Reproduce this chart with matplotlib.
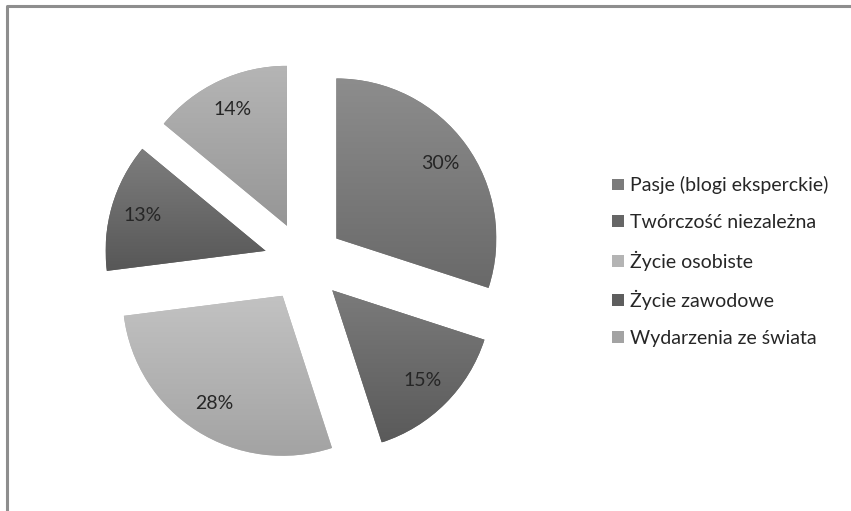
import numpy as np
import matplotlib
matplotlib.use("Agg")
import matplotlib.pyplot as plt
from matplotlib.patches import Patch
from matplotlib.colors import LinearSegmentedColormap

# data
categories = ["Pasje (blogi eksperckie)", "Twórczość niezależna", "Życie osobiste",
              "Życie zawodowe", "Wydarzenia ze świata"]
shares = [30, 15, 28, 13, 14]
# gradient (top, bottom) per slice, and the flat legend swatch colour
grad_top = ["#8d8d8d", "#7b7b7b", "#c2c2c2", "#7e7e7e", "#b5b5b5"]
grad_bot = ["#696969", "#5a5a5a", "#a3a3a3", "#575757", "#969696"]
swatch = ["#7b7b7b", "#666666", "#b4b4b4", "#5e5e5e", "#a3a3a3"]

W, H = 851, 511
plt.rcParams["font.family"] = ["Lato", "DejaVu Sans"]

fig = plt.figure(figsize=(W / 100, H / 100), dpi=100)
ax = fig.add_axes([0, 0, 1, 1])

# frame of the chart area (only left and top are visible)
ax.plot([7, 7, W], [0, H - 6, H - 6], color="#8e8e8e", lw=2.2, solid_capstyle="butt")

# explode is an offset in data units here (pixels)
wedges, texts, autotexts = ax.pie(
    shares, center=(304, H - 262), radius=160, startangle=90, counterclock=False,
    explode=[40] * len(shares), autopct="%d%%", pctdistance=0.8,
    colors=swatch, textprops=dict(fontsize=14, color="#262626"),
    wedgeprops=dict(linewidth=0), frame=True)

# vertical gradient inside each slice
for w, c0, c1 in zip(wedges, grad_top, grad_bot):
    bb = w.get_path().get_extents(w.get_patch_transform())
    cmap = LinearSegmentedColormap.from_list("g", [c1, c0])
    grad = np.linspace(0, 1, 256).reshape(-1, 1)
    im = ax.imshow(grad, cmap=cmap, extent=[bb.x0, bb.x1, bb.y0, bb.y1],
                   origin="lower", aspect="auto", zorder=w.get_zorder() + 0.1)
    im.set_clip_path(w)
for t in autotexts:
    t.set_zorder(5)

ax.set_xlim(0, W)
ax.set_ylim(0, H)
ax.set_aspect("equal")
ax.axis("off")

handles = [Patch(facecolor=c, edgecolor="none") for c in swatch]
ax.legend(handles, categories, loc="center left",
          bbox_to_anchor=(612 / W, (H - 261.5) / H), frameon=False,
          fontsize=14, labelcolor="#262626", handlelength=0.6, handleheight=0.55,
          handletextpad=0.35, labelspacing=1.0, borderpad=0, borderaxespad=0)

fig.savefig("out.png", dpi=100)
